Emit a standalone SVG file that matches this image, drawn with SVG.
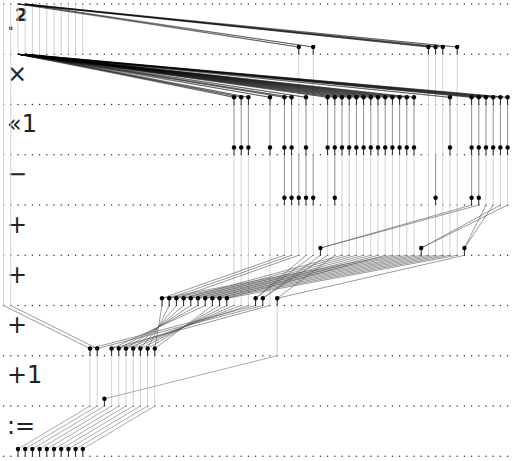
<svg xmlns="http://www.w3.org/2000/svg" xmlns:xlink="http://www.w3.org/1999/xlink" width="512" height="461" viewBox="0 0 512 461">
<style>
.dot{stroke:#333;stroke-width:1.5;stroke-linecap:round;stroke-dasharray:0 7.2;fill:none}
.p{stroke:#d2d2d2;stroke-width:1;fill:none}
.v{stroke:#999;stroke-width:1.1;fill:none}
.c{stroke:#000;stroke-width:0.55;stroke-opacity:0.75;fill:none}
.c2{stroke:#555;stroke-width:0.6;fill:none}
.c3{stroke:#888;stroke-width:0.7;fill:none}
.s{stroke:#222;stroke-width:1}
.lbl{font-family:"DejaVu Sans",sans-serif;font-size:24px;fill:#222}
</style>
<defs>
<g id="nd"><line x1="0" y1="0" x2="0" y2="7.2" class="s"/><circle r="2.2" fill="#000"/></g>
</defs>
<rect width="512" height="461" fill="#fff"/>
<g id="rows">
<line class="dot" x1="3.6" x2="508" y1="4" y2="4"/>
<line class="dot" x1="3.6" x2="508" y1="54.25" y2="54.25"/>
<line class="dot" x1="3.6" x2="508" y1="104.5" y2="104.5"/>
<line class="dot" x1="3.6" x2="508" y1="154.75" y2="154.75"/>
<line class="dot" x1="3.6" x2="508" y1="205" y2="205"/>
<line class="dot" x1="3.6" x2="508" y1="255.25" y2="255.25"/>
<line class="dot" x1="3.6" x2="508" y1="305.5" y2="305.5"/>
<line class="dot" x1="3.6" x2="508" y1="355.75" y2="355.75"/>
<line class="dot" x1="3.6" x2="508" y1="406" y2="406"/>
<line class="dot" x1="3.6" x2="508" y1="456.25" y2="456.25"/>
</g>
<g id="labels" class="lbl">
<text x="15" y="21" font-size="18" font-weight="bold">2</text>
<text x="7.6" y="30" font-size="17" font-weight="bold">.</text>
<text x="7" y="81.75">×</text>
<text x="7" y="132">«1</text>
<text x="7" y="182.25">−</text>
<text x="7" y="232.5">+</text>
<text x="7" y="282.75">+</text>
<text x="7" y="333">+</text>
<text x="7" y="383.25">+1</text>
<text x="7" y="433.5">:=</text>
</g>
<g id="connectors">
<path class="p" d="M3.6 4V305.5M10.8 4V305.5M18 4V54.25M25.2 4V54.25M32.4 4V54.25M39.6 4V54.25M46.8 4V54.25M54 4V54.25M61.2 4V54.25M68.4 4V54.25M75.6 4V54.25M82.8 4V54.25
M298.8 54.25V154.75M313.2 54.25V154.75M435.6 54.25V154.75M428.4 54.25V255.25M442.8 54.25V255.25M457.2 54.25V255.25
M486 154.75V205M493.2 154.75V205M500.4 154.75V205M507.6 154.75V205
M234 154.75V305.5M241.2 154.75V305.5M248.4 154.75V305.5M270 154.75V305.5
M327.6 154.75V255.25M342 154.75V255.25M349.2 154.75V255.25M356.4 154.75V255.25M363.6 154.75V255.25M370.8 154.75V255.25M378 154.75V255.25M385.2 154.75V255.25M392.4 154.75V255.25M399.6 154.75V255.25M406.8 154.75V255.25M414 154.75V255.25M450 154.75V255.25
M284.4 205V255.25M291.6 205V255.25M298.8 205V255.25M306 205V255.25M313.2 205V255.25M334.8 205V255.25M435.6 205V255.25
M277.2 305.5V355.75
M90 355.75V406M97.2 355.75V406M111.6 355.75V406M118.8 355.75V406M126 355.75V406M133.2 355.75V406M140.4 355.75V406M147.6 355.75V406M154.8 355.75V406"/>
<path class="v" d="M234 104.5V147.55M241.2 104.5V147.55M248.4 104.5V147.55M270 104.5V147.55M284.4 104.5V147.55M291.6 104.5V147.55M306 104.5V147.55M327.6 104.5V147.55M334.8 104.5V147.55M342 104.5V147.55M349.2 104.5V147.55M356.4 104.5V147.55M363.6 104.5V147.55M370.8 104.5V147.55M378 104.5V147.55M385.2 104.5V147.55M392.4 104.5V147.55M399.6 104.5V147.55M406.8 104.5V147.55M414 104.5V147.55M450 104.5V147.55M471.6 104.5V147.55M478.8 104.5V147.55M486 104.5V147.55M493.2 104.5V147.55M500.4 104.5V147.55M507.6 104.5V147.55
M284.4 154.75V197.8M291.6 154.75V197.8M298.8 154.75V197.8M306 154.75V197.8M313.2 154.75V197.8M334.8 154.75V197.8M435.6 154.75V197.8M471.6 154.75V197.8M478.8 154.75V197.8"/>
<path class="c" d="M18 4L298.8 47.05M25.2 4L298.8 47.05M18 4L313.2 47.05M25.2 4L313.2 47.05M18 4L428.4 47.05M25.2 4L428.4 47.05M18 4L435.6 47.05M25.2 4L435.6 47.05M18 4L442.8 47.05M25.2 4L442.8 47.05M18 4L457.2 47.05M25.2 4L457.2 47.05"/>
<path class="c" d="M18 54.25L234 97.3M25.2 54.25L234 97.3M18 54.25L241.2 97.3M25.2 54.25L241.2 97.3M18 54.25L248.4 97.3M25.2 54.25L248.4 97.3M18 54.25L270 97.3M25.2 54.25L270 97.3M18 54.25L284.4 97.3M25.2 54.25L284.4 97.3M18 54.25L291.6 97.3M25.2 54.25L291.6 97.3M18 54.25L306 97.3M25.2 54.25L306 97.3M18 54.25L327.6 97.3M25.2 54.25L327.6 97.3M18 54.25L334.8 97.3M25.2 54.25L334.8 97.3M18 54.25L342 97.3M25.2 54.25L342 97.3M18 54.25L349.2 97.3M25.2 54.25L349.2 97.3M18 54.25L356.4 97.3M25.2 54.25L356.4 97.3M18 54.25L363.6 97.3M25.2 54.25L363.6 97.3M18 54.25L370.8 97.3M25.2 54.25L370.8 97.3M18 54.25L378 97.3M25.2 54.25L378 97.3M18 54.25L385.2 97.3M25.2 54.25L385.2 97.3M18 54.25L392.4 97.3M25.2 54.25L392.4 97.3M18 54.25L399.6 97.3M25.2 54.25L399.6 97.3M18 54.25L406.8 97.3M25.2 54.25L406.8 97.3M18 54.25L414 97.3M25.2 54.25L414 97.3M18 54.25L450 97.3M25.2 54.25L450 97.3M18 54.25L471.6 97.3M25.2 54.25L471.6 97.3M18 54.25L478.8 97.3M25.2 54.25L478.8 97.3M18 54.25L486 97.3M25.2 54.25L486 97.3M18 54.25L493.2 97.3M25.2 54.25L493.2 97.3M18 54.25L500.4 97.3M25.2 54.25L500.4 97.3M18 54.25L507.6 97.3M25.2 54.25L507.6 97.3"/>
<path class="c2" d="M471.6 205L320.4 248.05M478.8 205L320.4 248.05M500.4 205L421.2 248.05M507.6 205L421.2 248.05M486 205L464.4 248.05M493.2 205L464.4 248.05"/>
<path class="c2" d="M306 255.25L255.6 298.3M313.2 255.25L255.6 298.3M320.4 255.25L262.8 298.3M327.6 255.25L262.8 298.3M334.8 255.25L277.2 298.3M464.4 255.25L277.2 298.3
M284.4 255.25L162 298.3M392.4 255.25L162 298.3M291.6 255.25L169.2 298.3M399.6 255.25L169.2 298.3M298.8 255.25L176.4 298.3M406.8 255.25L176.4 298.3M342 255.25L183.6 298.3M414 255.25L183.6 298.3M349.2 255.25L190.8 298.3M421.2 255.25L190.8 298.3M356.4 255.25L198 298.3M428.4 255.25L198 298.3M363.6 255.25L205.2 298.3M435.6 255.25L205.2 298.3M370.8 255.25L212.4 298.3M442.8 255.25L212.4 298.3M378 255.25L219.6 298.3M450 255.25L219.6 298.3M385.2 255.25L226.8 298.3M457.2 255.25L226.8 298.3"/>
<path class="c2" d="M3.6 305.5L90 348.55M255.6 305.5L90 348.55M10.8 305.5L97.2 348.55M262.8 305.5L97.2 348.55M205.2 305.5L111.6 348.55M270 305.5L111.6 348.55M198 305.5L118.8 348.55M248.4 305.5L118.8 348.55M190.8 305.5L126 348.55M241.2 305.5L126 348.55M183.6 305.5L133.2 348.55M234 305.5L133.2 348.55M176.4 305.5L140.4 348.55M226.8 305.5L140.4 348.55M169.2 305.5L147.6 348.55M219.6 305.5L147.6 348.55M162 305.5L154.8 348.55M212.4 305.5L154.8 348.55"/>
<path class="c3" d="M277.2 355.75L104.4 398.8"/>
<path class="c3" d="M90 406L18 449.05M97.2 406L25.2 449.05M104.4 406L32.4 449.05M111.6 406L39.6 449.05M118.8 406L46.8 449.05M126 406L54 449.05M133.2 406L61.2 449.05M140.4 406L68.4 449.05M147.6 406L75.6 449.05M154.8 406L82.8 449.05"/>
</g>
<g id="nodes">
<g id="n0-41"><use xlink:href="#nd" x="298.8" y="47.05"/></g>
<g id="n0-43"><use xlink:href="#nd" x="313.2" y="47.05"/></g>
<g id="n0-59"><use xlink:href="#nd" x="428.4" y="47.05"/></g>
<g id="n0-60"><use xlink:href="#nd" x="435.6" y="47.05"/></g>
<g id="n0-61"><use xlink:href="#nd" x="442.8" y="47.05"/></g>
<g id="n0-63"><use xlink:href="#nd" x="457.2" y="47.05"/></g>
<g id="n1-32"><use xlink:href="#nd" x="234" y="97.3"/></g>
<g id="n1-33"><use xlink:href="#nd" x="241.2" y="97.3"/></g>
<g id="n1-34"><use xlink:href="#nd" x="248.4" y="97.3"/></g>
<g id="n1-37"><use xlink:href="#nd" x="270" y="97.3"/></g>
<g id="n1-39"><use xlink:href="#nd" x="284.4" y="97.3"/></g>
<g id="n1-40"><use xlink:href="#nd" x="291.6" y="97.3"/></g>
<g id="n1-42"><use xlink:href="#nd" x="306" y="97.3"/></g>
<g id="n1-45"><use xlink:href="#nd" x="327.6" y="97.3"/></g>
<g id="n1-46"><use xlink:href="#nd" x="334.8" y="97.3"/></g>
<g id="n1-47"><use xlink:href="#nd" x="342" y="97.3"/></g>
<g id="n1-48"><use xlink:href="#nd" x="349.2" y="97.3"/></g>
<g id="n1-49"><use xlink:href="#nd" x="356.4" y="97.3"/></g>
<g id="n1-50"><use xlink:href="#nd" x="363.6" y="97.3"/></g>
<g id="n1-51"><use xlink:href="#nd" x="370.8" y="97.3"/></g>
<g id="n1-52"><use xlink:href="#nd" x="378" y="97.3"/></g>
<g id="n1-53"><use xlink:href="#nd" x="385.2" y="97.3"/></g>
<g id="n1-54"><use xlink:href="#nd" x="392.4" y="97.3"/></g>
<g id="n1-55"><use xlink:href="#nd" x="399.6" y="97.3"/></g>
<g id="n1-56"><use xlink:href="#nd" x="406.8" y="97.3"/></g>
<g id="n1-57"><use xlink:href="#nd" x="414" y="97.3"/></g>
<g id="n1-62"><use xlink:href="#nd" x="450" y="97.3"/></g>
<g id="n1-65"><use xlink:href="#nd" x="471.6" y="97.3"/></g>
<g id="n1-66"><use xlink:href="#nd" x="478.8" y="97.3"/></g>
<g id="n1-67"><use xlink:href="#nd" x="486" y="97.3"/></g>
<g id="n1-68"><use xlink:href="#nd" x="493.2" y="97.3"/></g>
<g id="n1-69"><use xlink:href="#nd" x="500.4" y="97.3"/></g>
<g id="n1-70"><use xlink:href="#nd" x="507.6" y="97.3"/></g>
<g id="n2-32"><use xlink:href="#nd" x="234" y="147.55"/></g>
<g id="n2-33"><use xlink:href="#nd" x="241.2" y="147.55"/></g>
<g id="n2-34"><use xlink:href="#nd" x="248.4" y="147.55"/></g>
<g id="n2-37"><use xlink:href="#nd" x="270" y="147.55"/></g>
<g id="n2-39"><use xlink:href="#nd" x="284.4" y="147.55"/></g>
<g id="n2-40"><use xlink:href="#nd" x="291.6" y="147.55"/></g>
<g id="n2-42"><use xlink:href="#nd" x="306" y="147.55"/></g>
<g id="n2-45"><use xlink:href="#nd" x="327.6" y="147.55"/></g>
<g id="n2-46"><use xlink:href="#nd" x="334.8" y="147.55"/></g>
<g id="n2-47"><use xlink:href="#nd" x="342" y="147.55"/></g>
<g id="n2-48"><use xlink:href="#nd" x="349.2" y="147.55"/></g>
<g id="n2-49"><use xlink:href="#nd" x="356.4" y="147.55"/></g>
<g id="n2-50"><use xlink:href="#nd" x="363.6" y="147.55"/></g>
<g id="n2-51"><use xlink:href="#nd" x="370.8" y="147.55"/></g>
<g id="n2-52"><use xlink:href="#nd" x="378" y="147.55"/></g>
<g id="n2-53"><use xlink:href="#nd" x="385.2" y="147.55"/></g>
<g id="n2-54"><use xlink:href="#nd" x="392.4" y="147.55"/></g>
<g id="n2-55"><use xlink:href="#nd" x="399.6" y="147.55"/></g>
<g id="n2-56"><use xlink:href="#nd" x="406.8" y="147.55"/></g>
<g id="n2-57"><use xlink:href="#nd" x="414" y="147.55"/></g>
<g id="n2-62"><use xlink:href="#nd" x="450" y="147.55"/></g>
<g id="n2-65"><use xlink:href="#nd" x="471.6" y="147.55"/></g>
<g id="n2-66"><use xlink:href="#nd" x="478.8" y="147.55"/></g>
<g id="n2-67"><use xlink:href="#nd" x="486" y="147.55"/></g>
<g id="n2-68"><use xlink:href="#nd" x="493.2" y="147.55"/></g>
<g id="n2-69"><use xlink:href="#nd" x="500.4" y="147.55"/></g>
<g id="n2-70"><use xlink:href="#nd" x="507.6" y="147.55"/></g>
<g id="n3-39"><use xlink:href="#nd" x="284.4" y="197.8"/></g>
<g id="n3-40"><use xlink:href="#nd" x="291.6" y="197.8"/></g>
<g id="n3-41"><use xlink:href="#nd" x="298.8" y="197.8"/></g>
<g id="n3-42"><use xlink:href="#nd" x="306" y="197.8"/></g>
<g id="n3-43"><use xlink:href="#nd" x="313.2" y="197.8"/></g>
<g id="n3-46"><use xlink:href="#nd" x="334.8" y="197.8"/></g>
<g id="n3-60"><use xlink:href="#nd" x="435.6" y="197.8"/></g>
<g id="n3-65"><use xlink:href="#nd" x="471.6" y="197.8"/></g>
<g id="n3-66"><use xlink:href="#nd" x="478.8" y="197.8"/></g>
<g id="n4-44"><use xlink:href="#nd" x="320.4" y="248.05"/></g>
<g id="n4-58"><use xlink:href="#nd" x="421.2" y="248.05"/></g>
<g id="n4-64"><use xlink:href="#nd" x="464.4" y="248.05"/></g>
<g id="n5-22"><use xlink:href="#nd" x="162" y="298.3"/></g>
<g id="n5-23"><use xlink:href="#nd" x="169.2" y="298.3"/></g>
<g id="n5-24"><use xlink:href="#nd" x="176.4" y="298.3"/></g>
<g id="n5-25"><use xlink:href="#nd" x="183.6" y="298.3"/></g>
<g id="n5-26"><use xlink:href="#nd" x="190.8" y="298.3"/></g>
<g id="n5-27"><use xlink:href="#nd" x="198" y="298.3"/></g>
<g id="n5-28"><use xlink:href="#nd" x="205.2" y="298.3"/></g>
<g id="n5-29"><use xlink:href="#nd" x="212.4" y="298.3"/></g>
<g id="n5-30"><use xlink:href="#nd" x="219.6" y="298.3"/></g>
<g id="n5-31"><use xlink:href="#nd" x="226.8" y="298.3"/></g>
<g id="n5-35"><use xlink:href="#nd" x="255.6" y="298.3"/></g>
<g id="n5-36"><use xlink:href="#nd" x="262.8" y="298.3"/></g>
<g id="n5-38"><use xlink:href="#nd" x="277.2" y="298.3"/></g>
<g id="n6-12"><use xlink:href="#nd" x="90" y="348.55"/></g>
<g id="n6-13"><use xlink:href="#nd" x="97.2" y="348.55"/></g>
<g id="n6-15"><use xlink:href="#nd" x="111.6" y="348.55"/></g>
<g id="n6-16"><use xlink:href="#nd" x="118.8" y="348.55"/></g>
<g id="n6-17"><use xlink:href="#nd" x="126" y="348.55"/></g>
<g id="n6-18"><use xlink:href="#nd" x="133.2" y="348.55"/></g>
<g id="n6-19"><use xlink:href="#nd" x="140.4" y="348.55"/></g>
<g id="n6-20"><use xlink:href="#nd" x="147.6" y="348.55"/></g>
<g id="n6-21"><use xlink:href="#nd" x="154.8" y="348.55"/></g>
<g id="n7-14"><use xlink:href="#nd" x="104.4" y="398.8"/></g>
<g id="n8-2"><use xlink:href="#nd" x="18" y="449.05"/></g>
<g id="n8-3"><use xlink:href="#nd" x="25.2" y="449.05"/></g>
<g id="n8-4"><use xlink:href="#nd" x="32.4" y="449.05"/></g>
<g id="n8-5"><use xlink:href="#nd" x="39.6" y="449.05"/></g>
<g id="n8-6"><use xlink:href="#nd" x="46.8" y="449.05"/></g>
<g id="n8-7"><use xlink:href="#nd" x="54" y="449.05"/></g>
<g id="n8-8"><use xlink:href="#nd" x="61.2" y="449.05"/></g>
<g id="n8-9"><use xlink:href="#nd" x="68.4" y="449.05"/></g>
<g id="n8-10"><use xlink:href="#nd" x="75.6" y="449.05"/></g>
<g id="n8-11"><use xlink:href="#nd" x="82.8" y="449.05"/></g>
</g>
</svg>
